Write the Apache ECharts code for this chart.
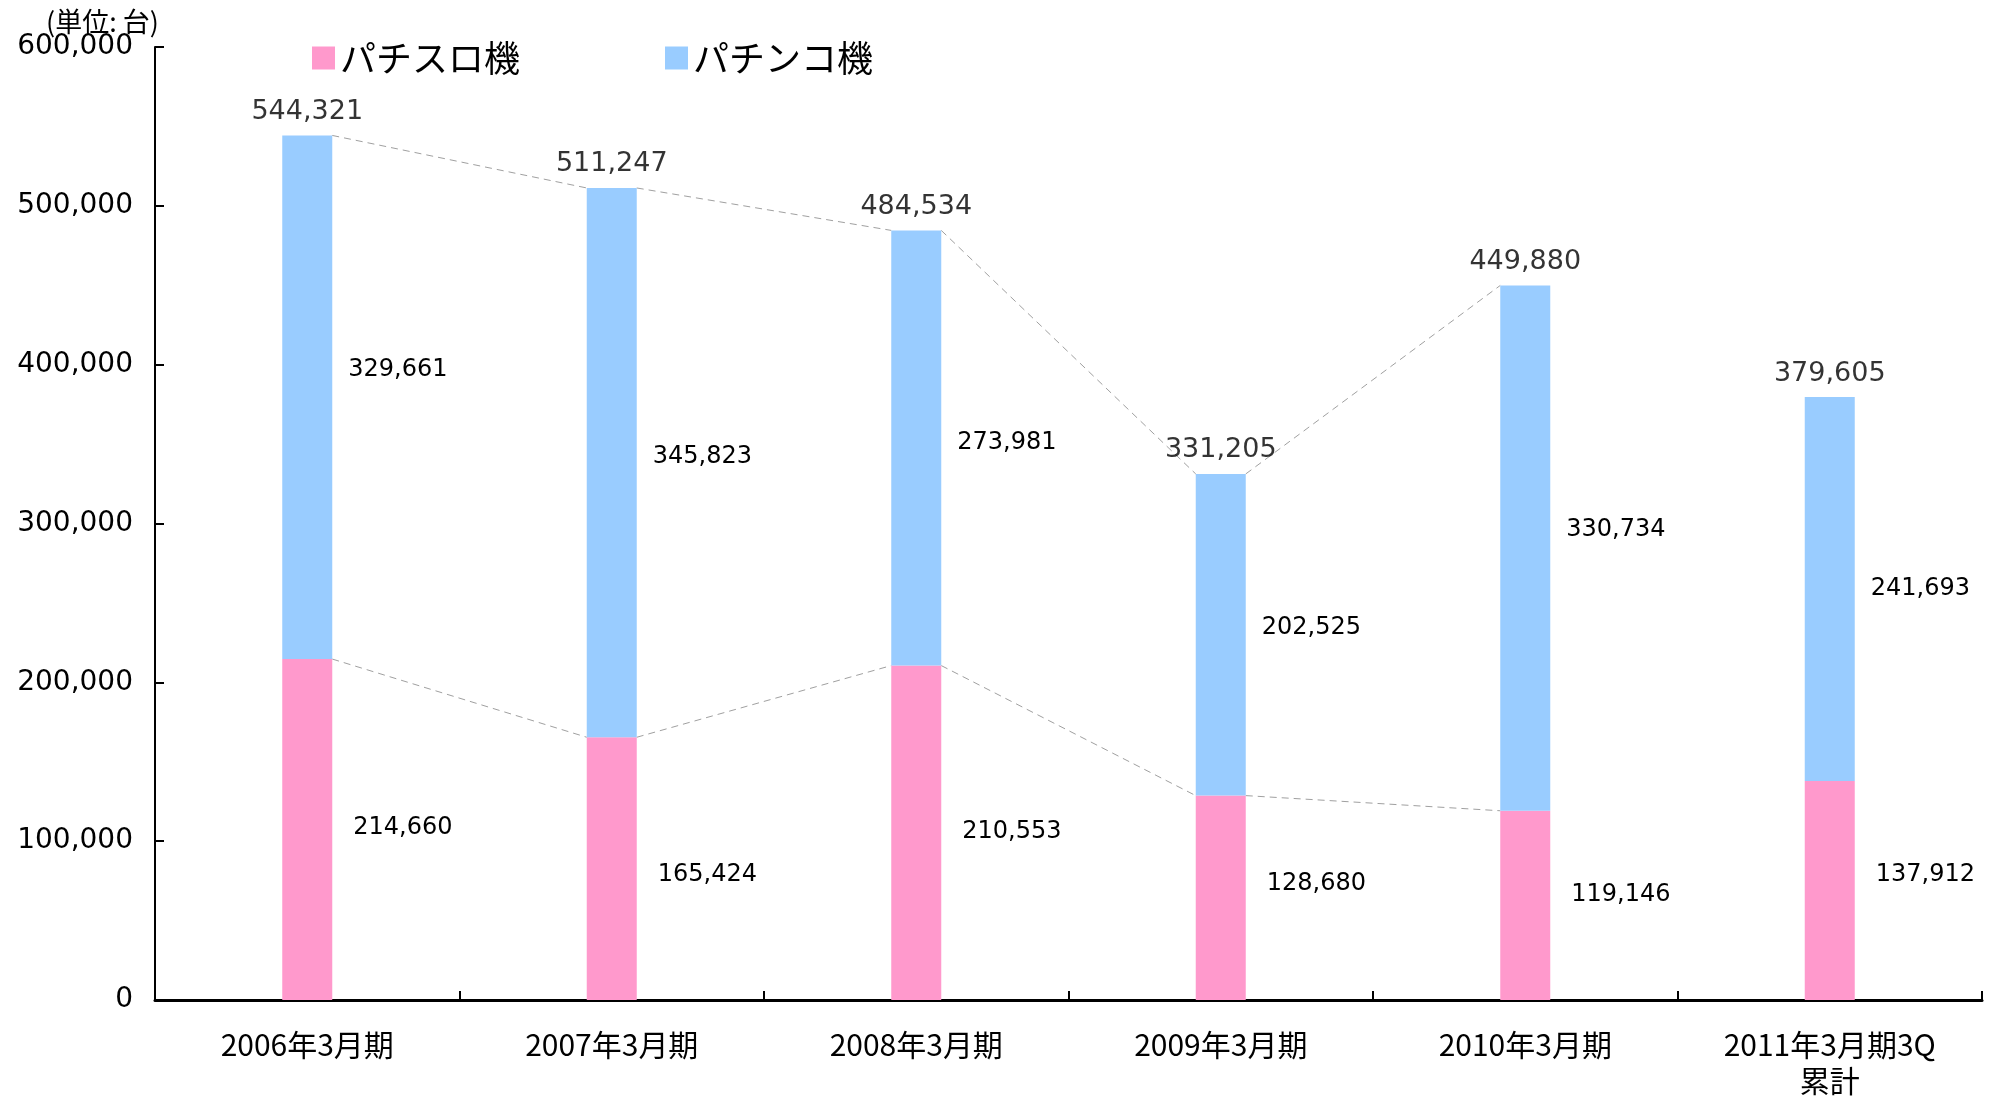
<!DOCTYPE html>
<html lang="ja">
<head>
<meta charset="UTF-8">
<title>パチスロ機・パチンコ機 販売台数</title>
<script src="https://cdn.jsdelivr.net/npm/echarts@6/dist/echarts.min.js"></script>
<style>
  html, body { margin: 0; padding: 0; background: #fff; }
  #main { width: 1995px; height: 1099px; }
</style>
</head>
<body>
<div id="main"></div>
<script>
// 決算期
var periods = ['2006年3月期', '2007年3月期', '2008年3月期', '2009年3月期', '2010年3月期', '2011年3月期3Q\n累計'];
// パチスロ機 (下段)
var slotUnits = [214660, 165424, 210553, 128680, 119146, 137912];
// パチンコ機 (上段)
var pachinkoUnits = [329661, 345823, 273981, 202525, 330734, 241693];
// y軸目盛
var yTicks = [0, 100000, 200000, 300000, 400000, 500000, 600000];

var totals = slotUnits.map(function (v, i) { return v + pachinkoUnits[i]; });

var numFont = 'DejaVu Sans';
var jpFont = '"Noto Sans CJK JP", sans-serif';
var barW = 50;

function fmt(v) { return v.toLocaleString('en-US'); }

// 棒の右上角から次の棒の左上角へ結ぶ破線 (2011年3月期3Qとは結ばない)
var topLinks = [], bottomLinks = [];
for (var i = 0; i < 4; i++) {
    topLinks.push([i, totals[i], totals[i + 1]]);
    bottomLinks.push([i, slotUnits[i], slotUnits[i + 1]]);
}

function linkItem(params, api) {
    var p0 = api.coord([api.value(0), api.value(1)]);
    var p1 = api.coord([api.value(0) + 1, api.value(2)]);
    return {
        type: 'line',
        shape: { x1: p0[0] + barW / 2, y1: p0[1], x2: p1[0] - barW / 2, y2: p1[1] },
        style: { stroke: '#a0a0a0', lineWidth: 1, lineDash: [7, 5] }
    };
}

// ラベル縦位置の微調整
var pachinkoNudge = [-27, -6, -5, -7, -18, 0];
var slotNudge = [-2, 6, -1, -14, -11, -16];

var chart = echarts.init(document.getElementById('main'));
chart.setOption({
    backgroundColor: '#fff',
    animation: false,
    graphic: [{
        type: 'text',
        left: 46,
        top: 8,
        style: { text: '(単位: 台)', font: '27px ' + jpFont, fill: '#000' }
    }],
    legend: {
        data: ['パチスロ機', 'パチンコ機'],
        left: 307,
        top: 35,
        icon: 'rect',
        itemWidth: 23,
        itemHeight: 23,
        itemGap: 145,
        textStyle: { fontFamily: jpFont, fontSize: 36, color: '#000' }
    },
    grid: { left: 155, right: 13, top: 47, bottom: 96 },
    xAxis: {
        type: 'category',
        data: periods,
        axisLine: { lineStyle: { color: '#000', width: 3 } },
        axisTick: { show: true, inside: true, length: 9, lineStyle: { color: '#000', width: 2 } },
        axisLabel: {
            fontFamily: jpFont, fontSize: 30, color: '#000',
            margin: 27, lineHeight: 36, interval: 0
        }
    },
    yAxis: {
        type: 'value',
        min: yTicks[0],
        max: yTicks[yTicks.length - 1],
        interval: yTicks[1] - yTicks[0],
        splitLine: { show: false },
        axisLine: { show: true, lineStyle: { color: '#000', width: 2 } },
        axisTick: { show: true, inside: true, length: 9, lineStyle: { color: '#000', width: 2 } },
        axisLabel: {
            fontFamily: numFont, fontSize: 28, color: '#000', margin: 22,
            formatter: function (v) { return fmt(v); }
        }
    },
    series: [{
        name: 'パチスロ機',
        type: 'bar',
        stack: 'units',
        barWidth: barW,
        itemStyle: { color: '#ff99cc' },
        label: {
            show: true, position: 'right', distance: 21,
            fontFamily: numFont, fontSize: 24, color: '#000',
            formatter: function (p) { return fmt(p.value); }
        },
        data: slotUnits.map(function (v, i) {
            return { value: v, label: { offset: [0, slotNudge[i]] } };
        })
    }, {
        name: 'パチンコ機',
        type: 'bar',
        stack: 'units',
        barWidth: barW,
        itemStyle: { color: '#99ccff' },
        label: {
            show: true, position: 'right', distance: 16,
            fontFamily: numFont, fontSize: 24, color: '#000',
            formatter: function (p) { return fmt(p.value); }
        },
        data: pachinkoUnits.map(function (v, i) {
            return { value: v, label: { offset: [0, pachinkoNudge[i]] } };
        })
    }, {
        name: '合計',
        type: 'scatter',
        symbolSize: 0,
        silent: true,
        label: {
            show: true, position: 'top', distance: 10,
            fontFamily: numFont, fontSize: 27, color: '#000',
            formatter: function (p) { return fmt(p.value[1]); }
        },
        data: totals.map(function (v, i) { return [i, v]; }),
        z: 5
    }, {
        name: 'topLinks',
        type: 'custom',
        renderItem: linkItem,
        silent: true,
        data: topLinks,
        z: 1
    }, {
        name: 'bottomLinks',
        type: 'custom',
        renderItem: linkItem,
        silent: true,
        data: bottomLinks,
        z: 1
    }]
});
</script>
</body>
</html>
